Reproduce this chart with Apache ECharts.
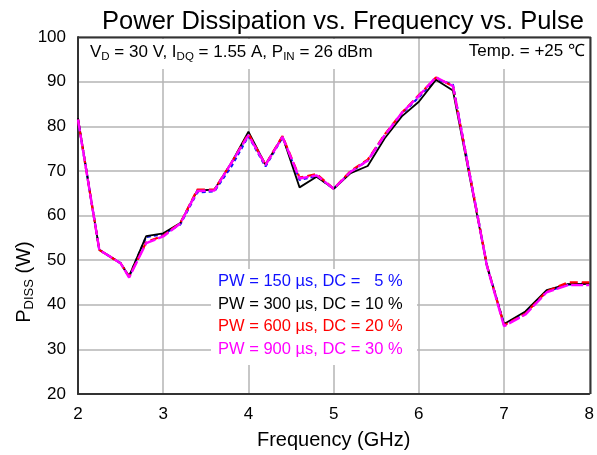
<!DOCTYPE html>
<html>
<head>
<meta charset="utf-8">
<script src="https://cdn.jsdelivr.net/npm/echarts@6/dist/echarts.min.js"></script>
<style>
  html, body { margin: 0; padding: 0; background: #fff; }
  #chart { width: 597px; height: 455px; }
</style>
</head>
<body>
<div id="chart"></div>
<script>
// frequency points (GHz)
var freq = [2.0, 2.25, 2.5, 2.6, 2.8, 3.0, 3.2, 3.4, 3.6, 3.8, 4.0, 4.2, 4.4, 4.6, 4.8,
  5.0, 5.2, 5.4, 5.6, 5.8, 6.0, 6.2, 6.4, 6.8, 7.0, 7.25, 7.5, 7.75, 8.0];

// PDISS (W) per pulse setting
var pw150 = [81.5, 52.3, 49.3, 46.3, 55.2, 55.8, 58.0, 65.2, 65.4, 71.0, 77.8, 71.0, 77.5, 68.0, 68.8,
  66.0, 69.8, 72.3, 78.0, 82.8, 86.5, 90.6, 89.3, 48.8, 35.6, 38.0, 43.0, 44.5, 44.8];
var pw300 = [81.8, 52.3, 49.3, 46.4, 55.4, 56.0, 58.3, 65.6, 65.8, 71.8, 78.8, 71.4, 77.7, 66.3, 68.7,
  66.0, 69.5, 71.1, 77.3, 82.2, 85.5, 90.4, 88.0, 48.6, 35.7, 38.5, 43.3, 44.6, 44.7];
var pw600 = [81.5, 52.3, 49.3, 46.3, 54.0, 55.5, 58.3, 65.8, 65.8, 71.8, 78.3, 71.4, 77.8, 68.5, 69.3,
  66.0, 70.0, 72.5, 78.2, 83.0, 87.0, 90.9, 89.0, 48.8, 35.4, 38.0, 43.0, 45.0, 45.0];
var pw900 = [81.5, 52.3, 49.3, 46.1, 53.8, 55.3, 58.2, 65.5, 65.6, 71.8, 78.0, 71.3, 77.6, 68.3, 69.0,
  66.0, 69.8, 72.3, 78.0, 83.0, 86.8, 91.0, 89.0, 48.6, 35.2, 37.8, 42.8, 44.4, 44.4];

var legendText = [
  "PW = 150 \u00b5s, DC =   5 %",
  "PW = 300 \u00b5s, DC = 10 %",
  "PW = 600 \u00b5s, DC = 20 %",
  "PW = 900 \u00b5s, DC = 30 %"
];
var colors = ["#1010ff", "#000000", "#ff0000", "#ff00ff"];

function pairs(ys) {
  return freq.map(function (f, i) { return [f, ys[i]]; });
}

var font = "Liberation Sans, Arial, sans-serif";
var subRich = {
  n: { fontSize: 17, fontFamily: font, color: "#000" },
  s: { fontSize: 11.5, fontFamily: font, color: "#000", padding: [9, 0, 0, 0] }
};

var chart = echarts.init(document.getElementById("chart"));

var option = {
  animation: false,
  title: {
    text: "Power Dissipation vs. Frequency vs. Pulse",
    left: 338,
    textAlign: "center",
    top: 4,
    textStyle: { fontSize: 25.5, fontWeight: "normal", fontFamily: font, color: "#000" }
  },
  grid: { left: 78, right: 6, top: 37, bottom: 61 },
  xAxis: {
    type: "value",
    min: 2, max: 8, interval: 1,
    name: "Frequency (GHz)",
    nameLocation: "middle",
    nameGap: 36,
    nameTextStyle: { fontSize: 20, fontFamily: font, color: "#000" },
    axisLine: { show: true, lineStyle: { color: "#333", width: 2 } },
    axisTick: { show: false },
    axisLabel: { fontSize: 17, fontFamily: font, color: "#000", margin: 12 },
    splitLine: { show: true, lineStyle: { color: "#b4b4b4", width: 1.5 } }
  },
  yAxis: {
    type: "value",
    min: 20, max: 100, interval: 10,
    axisLine: { show: true, lineStyle: { color: "#333", width: 2 } },
    axisTick: { show: false },
    axisLabel: { fontSize: 17, fontFamily: font, color: "#000", margin: 12 },
    splitLine: { show: true, lineStyle: { color: "#b4b4b4", width: 1.5 } }
  },
  series: [
    { name: legendText[0], type: "line", data: pairs(pw150), showSymbol: false,
      lineStyle: { color: colors[0], width: 2.2, type: [4, 3] }, z: 3 },
    { name: legendText[1], type: "line", data: pairs(pw300), showSymbol: false,
      lineStyle: { color: colors[1], width: 1.8 }, z: 4 },
    { name: legendText[2], type: "line", data: pairs(pw600), showSymbol: false,
      lineStyle: { color: colors[2], width: 2.2, type: [8, 4] }, z: 5 },
    { name: legendText[3], type: "line", data: pairs(pw900), showSymbol: false,
      lineStyle: { color: colors[3], width: 2.4, type: [12, 3] }, z: 6 }
  ],
  graphic: [
    // top frame lines (right + top)
    { type: "line", shape: { x1: 78, y1: 37.5, x2: 591, y2: 37.5 }, style: { stroke: "#333", lineWidth: 2 }, z: 20 },
    { type: "line", shape: { x1: 590.5, y1: 37, x2: 590.5, y2: 394 }, style: { stroke: "#333", lineWidth: 2 }, z: 20 },
    // y axis title
    { type: "text", x: 24, y: 282, rotation: Math.PI / 2, z: 11, style: {
        text: "{n|P}{s|DISS}{n| (W)}", align: "center", verticalAlign: "middle",
        rich: {
          n: { fontSize: 20, fontFamily: font, color: "#000" },
          s: { fontSize: 13, fontFamily: font, color: "#000", padding: [10, 0, 0, 0] }
        } } },
    // condition text boxes
    { type: "rect", shape: { x: 80, y: 39, width: 316, height: 30 }, style: { fill: "#fff" }, z: 10 },
    { type: "rect", shape: { x: 448, y: 39, width: 141, height: 30 }, style: { fill: "#fff" }, z: 10 },
    { type: "text", x: 90, y: 42, z: 11, style: {
        text: "{n|V}{s|D}{n| = 30 V, I}{s|DQ}{n| = 1.55 A, P}{s|IN}{n| = 26 dBm}",
        rich: subRich, fill: "#000" } },
    { type: "text", x: 585, y: 43, z: 11, style: {
        text: "Temp. = +25 \u2103", align: "right", font: "17px " + font, fill: "#000" } },
    // legend box
    { type: "rect", shape: { x: 211, y: 269, width: 206, height: 96 }, style: { fill: "#fff" }, z: 10 },
    { type: "text", x: 218, y: 273, z: 11, style: { text: legendText[0], font: "16.5px " + font, fill: colors[0] } },
    { type: "text", x: 218, y: 296, z: 11, style: { text: legendText[1], font: "16.5px " + font, fill: colors[1] } },
    { type: "text", x: 218, y: 318, z: 11, style: { text: legendText[2], font: "16.5px " + font, fill: colors[2] } },
    { type: "text", x: 218, y: 341, z: 11, style: { text: legendText[3], font: "16.5px " + font, fill: colors[3] } }
  ]
};

chart.setOption(option);
</script>
</body>
</html>
